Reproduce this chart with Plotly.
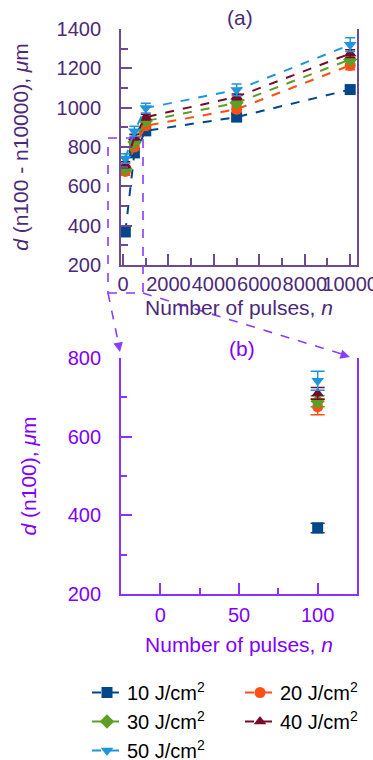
import plotly.graph_objects as go

# ---- data ----
pulses = [100, 500, 1000, 5000, 10000]
series_names = ["10 J/cm<sup>2</sup>", "20 J/cm<sup>2</sup>", "30 J/cm<sup>2</sup>",
                "40 J/cm<sup>2</sup>", "50 J/cm<sup>2</sup>"]
d10 = [368, 770, 882, 952, 1092]
d20 = [676, 800, 908, 992, 1215]
d30 = [690, 826, 932, 1025, 1245]
d40 = [710, 850, 952, 1055, 1275]
d50 = [742, 880, 998, 1090, 1320]
e10 = [12, 15, 15, 15, 15]
e20 = [20, 15, 15, 15, 22]
e30 = [14, 15, 15, 15, 20]
e40 = [15, 15, 15, 15, 20]
e50 = [24, 25, 25, 30, 35]

series_vals = [d10, d20, d30, d40, d50]
series_errs = [e10, e20, e30, e40, e50]
colors = ["#00478a", "#ff4f14", "#5e9e26", "#7a0a2a", "#1f96dc"]
symbols = ["square", "circle", "diamond", "triangle-up", "triangle-down"]
legend_ids = ["legend", "legend2", "legend", "legend2", "legend"]

top_ticks = [0, 2000, 4000, 6000, 8000, 10000]

TOP_TXT = "#4b2a78"
TOP_LINE = "#6b4b96"
BOT_TXT = "#7f00ff"
BOT_LINE = "#8a33ff"
FONT = "Liberation Sans, Arial, sans-serif"

fig = go.Figure()

for name, vals, errs, col, sym, lg in zip(series_names, series_vals, series_errs, colors, symbols, legend_ids):
    fig.add_trace(go.Scatter(
        x=pulses, y=vals, name=name, mode="lines+markers",
        line=dict(color=col, width=2, dash="dash"),
        marker=dict(symbol=sym, size=11, color=col),
        error_y=dict(type="data", array=errs, color=col, thickness=1.5, width=5),
        xaxis="x", yaxis="y", showlegend=True, legend=lg,
    ))

for name, vals, errs, col, sym in zip(series_names, series_vals, series_errs, colors, symbols):
    fig.add_trace(go.Scatter(
        x=[pulses[0]], y=[vals[0]], name=name, mode="markers",
        marker=dict(symbol=sym, size=11, color=col),
        error_y=dict(type="data", array=[errs[0]], color=col, thickness=1.5, width=7),
        xaxis="x2", yaxis="y2", showlegend=False,
    ))

# layout geometry (pixels)
W, H = 373, 760
ML, MR, MT, MB = 121, 16, 29, 166
PW = W - ML - MR
PH = H - MT - MB


def px(x):
    return (x - ML) / PW


def py(y):
    return (H - MB - y) / PH


legend_common = dict(
    orientation="v", xanchor="left", yanchor="top", xref="paper", yref="paper",
    font=dict(size=20, color="black"), bgcolor="rgba(0,0,0,0)",
    tracegroupgap=0, itemwidth=30,
)

fig.update_layout(
    width=W, height=H,
    margin=dict(l=ML, r=MR, t=MT, b=MB, autoexpand=False),
    paper_bgcolor="white", plot_bgcolor="white",
    font=dict(family=FONT, size=20, color="black"),
    xaxis=dict(
        domain=[0, 1], anchor="y", range=[-90, 10300], automargin=False,
        tickvals=top_ticks, ticktext=[str(v) for v in top_ticks], tickangle=0,
        ticklabeloverflow="allow",
        ticks="inside", ticklen=11, tickwidth=1.5, tickcolor=TOP_LINE,
        minor=dict(dtick=1000, ticks="inside", ticklen=7, tickwidth=1.5, tickcolor=TOP_LINE),
        showline=True, linecolor=TOP_LINE, linewidth=1.8, mirror=False,
        showgrid=False, zeroline=False,
        tickfont=dict(size=20, color=TOP_TXT), ticklabelstandoff=0,
        title=dict(text="Number of pulses, <i>n</i>", font=dict(size=21, color=TOP_TXT), standoff=6),
    ),
    yaxis=dict(
        domain=[py(265), 1], anchor="x", range=[200, 1400], automargin=False,
        dtick=200, tick0=200,
        ticks="inside", ticklen=11, tickwidth=1.5, tickcolor=TOP_LINE,
        minor=dict(dtick=100, ticks="inside", ticklen=7, tickwidth=1.5, tickcolor=TOP_LINE),
        showline=True, linecolor=TOP_LINE, linewidth=1.8, mirror=True,
        showgrid=False, zeroline=False,
        tickfont=dict(size=20, color=TOP_TXT), ticklabelstandoff=14,
        title=dict(text="<i>d</i> (n100 - n10000), <i>μ</i>m", font=dict(size=21, color=TOP_TXT), standoff=22),
    ),
    xaxis2=dict(
        domain=[0, 1], anchor="y2", range=[-25, 125], automargin=False,
        dtick=50, tick0=0,
        ticks="inside", ticklen=11, tickwidth=1.5, tickcolor=BOT_LINE,
        minor=dict(dtick=25, ticks="inside", ticklen=6, tickwidth=1.5, tickcolor=BOT_LINE),
        showline=True, linecolor=BOT_LINE, linewidth=1.8, mirror=False,
        showgrid=False, zeroline=False,
        tickfont=dict(size=20, color=BOT_TXT), ticklabelstandoff=2,
        title=dict(text="Number of pulses, <i>n</i>", font=dict(size=21, color=BOT_TXT), standoff=12),
    ),
    yaxis2=dict(
        domain=[0, py(358)], anchor="x2", range=[200, 800], automargin=False,
        dtick=200, tick0=200,
        ticks="inside", ticklen=11, tickwidth=1.5, tickcolor=BOT_LINE,
        minor=dict(dtick=100, ticks="inside", ticklen=6, tickwidth=1.5, tickcolor=BOT_LINE),
        showline=True, linecolor=BOT_LINE, linewidth=1.8, mirror=True,
        showgrid=False, zeroline=False,
        tickfont=dict(size=20, color=BOT_TXT), ticklabelstandoff=14,
        title=dict(text="<i>d</i> (n100), <i>μ</i>m", font=dict(size=21, color=BOT_TXT), standoff=25),
    ),
    legend=dict(x=px(87), y=py(673), **legend_common),
    legend2=dict(x=px(240), y=py(673), **legend_common),
)

# panel labels
fig.add_annotation(text="(a)", x=px(240), y=py(17), xref="paper", yref="paper",
                   xanchor="center", yanchor="middle",
                   showarrow=False, font=dict(size=21, color=TOP_TXT))
fig.add_annotation(text="(b)", x=px(242), y=py(348), xref="paper", yref="paper",
                   xanchor="center", yanchor="middle",
                   showarrow=False, font=dict(size=21, color=BOT_TXT))

BOX = "#8a3cff"
# zoom rectangle
fig.add_shape(type="rect", xref="paper", yref="paper",
              x0=px(108), x1=px(143), y0=py(293), y1=py(138),
              line=dict(color=BOX, width=1.6, dash="dash"), fillcolor="rgba(0,0,0,0)")
# connector lines
fig.add_shape(type="line", xref="paper", yref="paper",
              x0=px(108), y0=py(293), x1=px(119), y1=py(346),
              line=dict(color=BOX, width=1.6, dash="dash"))
fig.add_shape(type="line", xref="paper", yref="paper",
              x0=px(143), y0=py(293), x1=px(345), y1=py(355),
              line=dict(color=BOX, width=1.6, dash="dash"))
# arrow heads
fig.add_annotation(x=px(120), y=py(352), xref="paper", yref="paper", showarrow=True,
                   ax=-2, ay=-10, arrowhead=2, arrowsize=1.2, arrowwidth=1.6,
                   arrowcolor=BOX, text="", standoff=0)
fig.add_annotation(x=px(350), y=py(357), xref="paper", yref="paper", showarrow=True,
                   ax=-10, ay=-3, arrowhead=2, arrowsize=1.2, arrowwidth=1.6,
                   arrowcolor=BOX, text="", standoff=0)

fig.write_html("out.html")
